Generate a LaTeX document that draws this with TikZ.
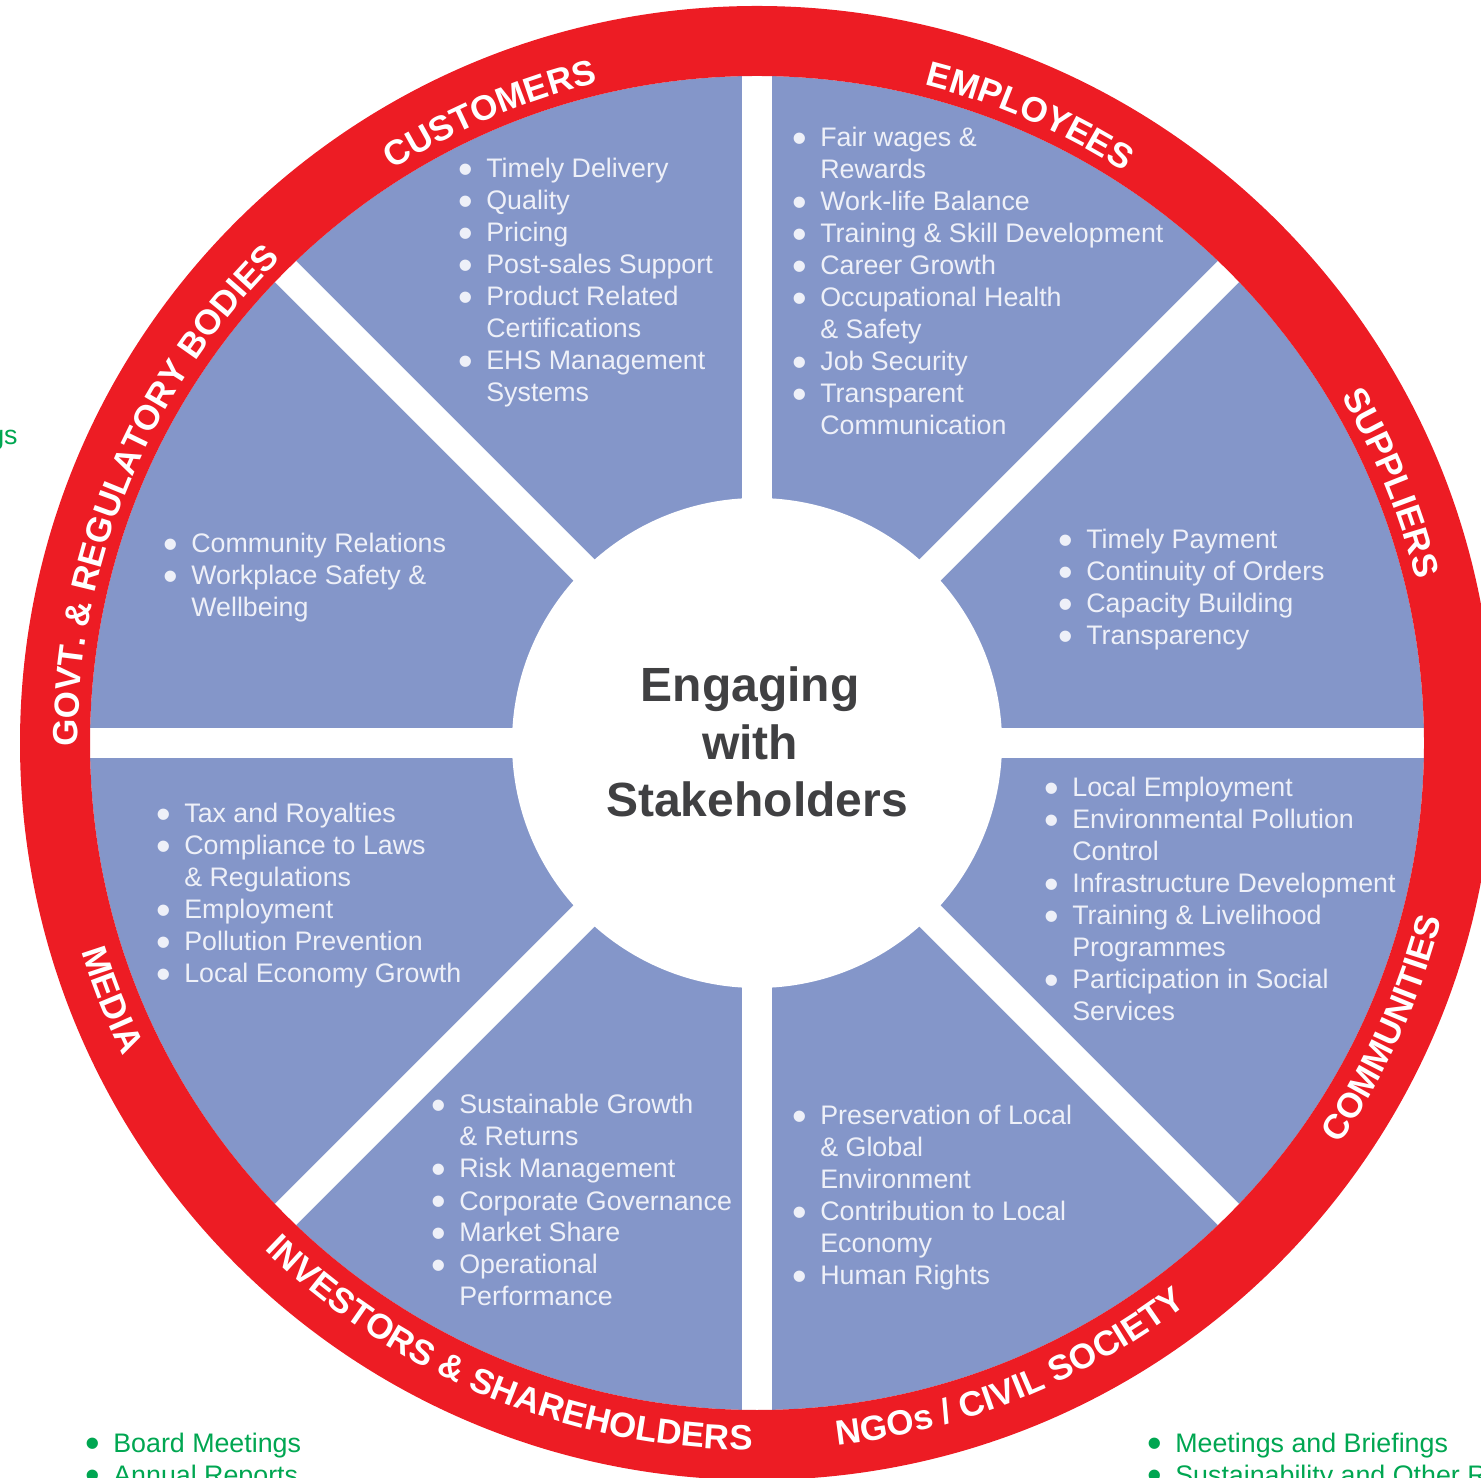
\documentclass[tikz,border=0pt]{standalone}
\usepackage{fontspec}
\usepackage{graphicx}
\setmainfont{Liberation Sans}
\usetikzlibrary{calc,decorations.text}
\definecolor{ringred}{RGB}{237,28,36}
\definecolor{secblue}{RGB}{132,150,201}
\definecolor{itemtext}{RGB}{238,240,248}
\definecolor{hubgray}{RGB}{64,64,66}
\definecolor{pagegreen}{RGB}{0,166,81}
\newcommand\ringfont{\fontsize{17.5}{20}\selectfont\bfseries}
\newcommand\blist[1]{\begin{tabular}[t]{@{}c@{\hspace{6.85pt}}l@{}}#1\end{tabular}}
\newcommand\bul{\raisebox{-2.65pt}{\scalebox{1.55}{\textbullet}} &}
\begin{document}
\begin{tikzpicture}[x=0.5pt,y=0.5pt,
  itemlist/.style={anchor=base west, inner sep=0pt, text=itemtext, font=\fontsize{13.4}{16}\selectfont},
  greenlist/.style={itemlist, text=pagegreen},
  hubtext/.style={anchor=base, inner sep=0pt, text=hubgray, font=\fontsize{24}{28}\selectfont\bfseries},
  ringtext/.style={decorate, decoration={text along path, text align=center, text color=white, text={|\ringfont|#1}}}]
\useasboundingbox (0,0) rectangle (1481,1477);
\clip (0,0) rectangle (1481,1477);
\coordinate (C) at (757,734);
% disk, separators, ring
\fill[secblue] (C) circle[radius=667];
\foreach \a in {0,45,90,135}
  \draw[white, line width=15pt] ($(C)+(\a:690)$) -- ($(C)+({\a+180}:690)$);
\fill[ringred, even odd rule] (C) circle[radius=737] (C) circle[radius=667];
\node[circle, fill=white, minimum size=245pt, inner sep=0pt] (hub) at (C) {};
\node[hubtext] (t1) at (750,775) {Engaging};
\node[hubtext] (t2) at (750,717) {with};
\node[hubtext] (t3) at (757,660) {Stakeholders};
% ring labels (top: clockwise, bottom: counter-clockwise)
\path[ringtext={CUSTOMERS}] ($(C)+(153:679)$) arc[start angle=153, end angle=73, radius=679];
\path[ringtext={EMPLOYEES}] ($(C)+(106.5:679)$) arc[start angle=106.5, end angle=26.5, radius=679];
\path[ringtext={SUPPLIERS}] ($(C)+(62.3:679)$) arc[start angle=62.3, end angle=-17.7, radius=679];
\path[ringtext={GOVT. {\&} REGULATORY BODIES}] ($(C)+(197.4:679)$) arc[start angle=197.4, end angle=117.4, radius=679];
\path[ringtext={COMMUNITIES}] ($(C)+(-64.5:707)$) arc[start angle=-64.5, end angle=15.5, radius=707];
\path[ringtext={NGOs / CIVIL SOCIETY}] ($(C)+(-108:707)$) arc[start angle=-108, end angle=-28, radius=707];
\path[ringtext={INVESTORS {\&} SHAREHOLDERS}] ($(C)+(-152.3:707)$) arc[start angle=-152.3, end angle=-72.3, radius=707];
\path[ringtext={MEDIA}] ($(C)+(-198.3:707)$) arc[start angle=-198.3, end angle=-118.3, radius=707];
% sector lists
\node[itemlist] (customers) at (457.7,1299) {\blist{%
 \bul Timely Delivery\\ \bul Quality\\ \bul Pricing\\ \bul Post-sales Support\\
 \bul Product Related\\ & Certifications\\ \bul EHS Management\\ & Systems}};
\node[itemlist] (employees) at (791.7,1330) {\blist{%
 \bul Fair wages \&\\ & Rewards\\ \bul Work-life Balance\\ \bul Training \& Skill Development\\
 \bul Career Growth\\ \bul Occupational Health\\ & \& Safety\\ \bul Job Security\\
 \bul Transparent\\ & Communication}};
\node[itemlist] (suppliers) at (1057.7,928) {\blist{%
 \bul Timely Payment\\ \bul Continuity of Orders\\ \bul Capacity Building\\ \bul Transparency}};
\node[itemlist] (govt) at (162.7,924) {\blist{%
 \bul Community Relations\\ \bul Workplace Safety \&\\ & Wellbeing}};
\node[itemlist] (media) at (155.7,654) {\blist{%
 \bul Tax and Royalties\\ \bul Compliance to Laws\\ & \& Regulations\\ \bul Employment\\
 \bul Pollution Prevention\\ \bul Local Economy Growth}};
\node[itemlist] (communities) at (1043.7,680) {\blist{%
 \bul Local Employment\\ \bul Environmental Pollution\\ & Control\\ \bul Infrastructure Development\\
 \bul Training \& Livelihood\\ & Programmes\\ \bul Participation in Social\\ & Services}};
\node[itemlist] (investors) at (430.7,363) {\blist{%
 \bul Sustainable Growth\\ & \& Returns\\ \bul Risk Management\\ \bul Corporate Governance\\
 \bul Market Share\\ \bul Operational\\ & Performance}};
\node[itemlist] (ngos) at (791.7,352) {\blist{%
 \bul Preservation of Local\\ & \& Global\\ & Environment\\ \bul Contribution to Local\\
 & Economy\\ \bul Human Rights}};
% page text around the wheel
\node[greenlist] (pageleft) at (84.7,25) {\blist{\bul Board Meetings\\ \bul Annual Reports}};
\node[greenlist] (pageright) at (1146.7,25) {\blist{\bul Meetings and Briefings\\ \bul Sustainability and Other Reports}};
\node[greenlist, anchor=base east] (pagegs) at (18,1032) {gs};
\end{tikzpicture}
\end{document}
